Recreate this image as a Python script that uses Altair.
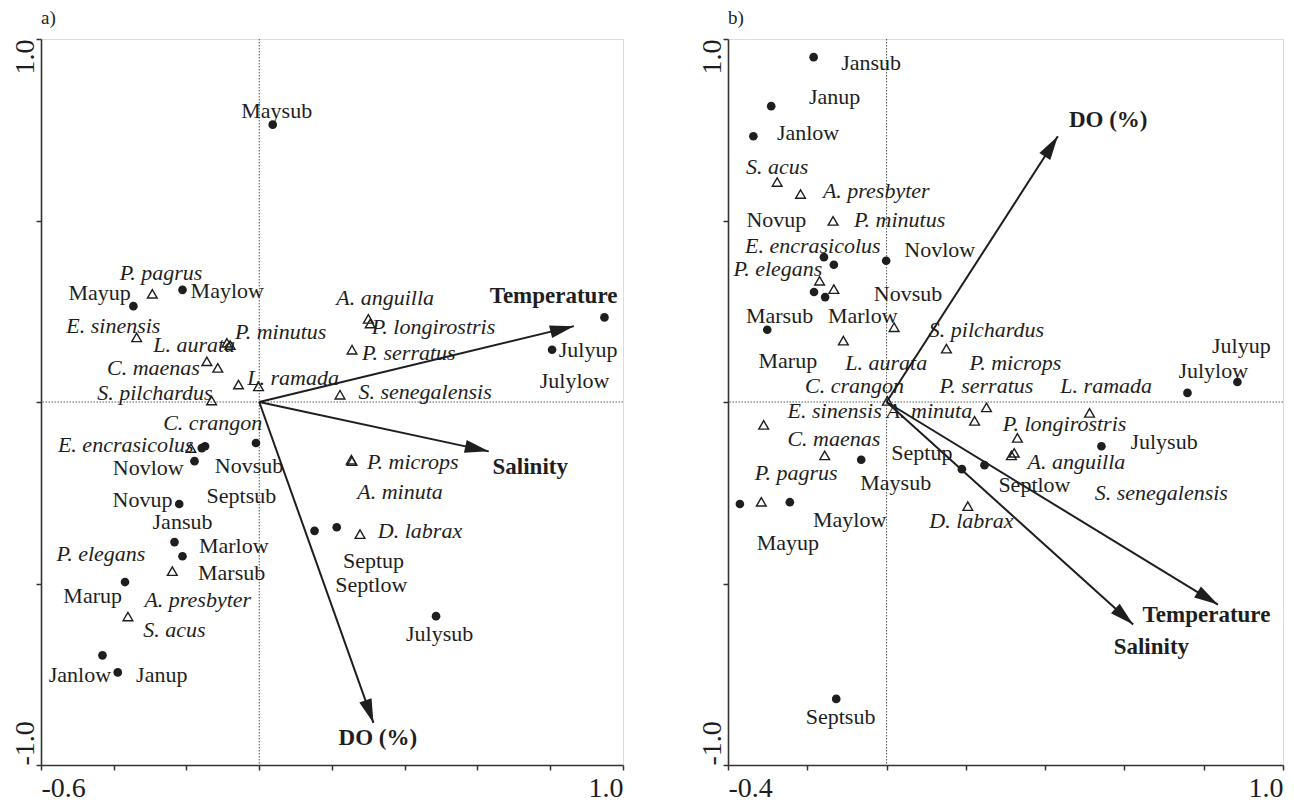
import math
import altair as alt
import pandas as pd

SERIF = "'Liberation Serif', 'DejaVu Serif', serif"
INK = "#1e1e1e"

# ---------------- Panel a ----------------
A_X_DOMAIN = [-0.6, 1.0]
A_X_TICKS = [-0.6, -0.4, -0.2, 0.0, 0.2, 0.4, 0.6, 0.8, 1.0]
A_X_TICK_TEXT = ["-0.6", "1.0"]

A_SITES = ["Maysub", "Mayup", "Maylow", "Julylow", "Julyup", "Julysub", "Septup", "Septlow",
           "Septsub", "Novsub", "Novlow", "Novup", "Jansub", "Marlow", "Marsub", "Marup",
           "Janlow", "Janup"]
A_SITE_X = [0.037, -0.346, -0.211, 0.949, 0.805, 0.486, 0.152, 0.213,
            -0.149, -0.009, -0.178, -0.220, -0.158, -0.233, -0.211, -0.369,
            -0.431, -0.389]
A_SITE_Y = [0.764, 0.264, 0.309, 0.233, 0.144, -0.590, -0.355, -0.345,
            -0.122, -0.113, -0.163, -0.281, -0.127, -0.386, -0.425, -0.496,
            -0.698, -0.745]
A_SITE_LX = [0.048, -0.439, -0.088, 0.867, 0.904, 0.496, 0.314, 0.308,
             -0.049, -0.028, -0.305, -0.321, -0.211, -0.070, -0.076, -0.458,
             -0.493, -0.268]
A_SITE_LY = [0.802, 0.300, 0.306, 0.057, 0.144, -0.639, -0.437, -0.503,
             -0.260, -0.177, -0.182, -0.269, -0.331, -0.398, -0.471, -0.535,
             -0.751, -0.751]

A_SPECIES = ["P. pagrus", "E. sinensis", "L. aurata", "P. minutus", "C. maenas", "P. elegans",
             "C. crangon", "L. ramada", "S. pilchardus", "E. encrasicolus", "A. presbyter",
             "S. acus", "A. anguilla", "P. longirostris", "P. serratus", "S. senegalensis",
             "P. microps", "A. minuta", "D. labrax"]
A_SP_X = [-0.294, -0.337, -0.089, -0.080, -0.144, -0.114,
          -0.057, -0.002, -0.131, -0.188, -0.239,
          -0.361, 0.300, 0.305, 0.255, 0.222,
          0.253, 0.255, 0.277]
A_SP_Y = [0.298, 0.178, 0.163, 0.157, 0.112, 0.094,
          0.048, 0.043, 0.004, -0.127, -0.466,
          -0.591, 0.229, 0.216, 0.144, 0.020,
          -0.159, -0.163, -0.364]
A_SP_LX = [-0.270, -0.401, -0.179, 0.059, -0.291, -0.435,
           -0.128, 0.093, -0.287, -0.367, -0.169,
           -0.233, 0.346, 0.479, 0.411, 0.456,
           0.422, 0.387, 0.442]
A_SP_LY = [0.355, 0.209, 0.158, 0.192, 0.094, -0.418,
           -0.058, 0.066, 0.025, -0.118, -0.545,
           -0.629, 0.287, 0.206, 0.135, 0.027,
           -0.165, -0.249, -0.355]

A_ENV = ["Temperature", "Salinity", "DO (%)"]
A_ENV_X = [0.865, 0.631, 0.314]
A_ENV_Y = [0.209, -0.136, -0.884]
A_ENV_LX = [0.809, 0.745, 0.326]
A_ENV_LY = [0.293, -0.179, -0.926]

# ---------------- Panel b ----------------
B_X_DOMAIN = [-0.4, 1.0]
B_X_TICKS = [-0.4, -0.2, 0.0, 0.2, 0.4, 0.6, 0.8, 1.0]
B_X_TICK_TEXT = ["-0.4", "1.0"]

B_SITES = ["Jansub", "Janup", "Janlow", "Novlow", "Novup", "Novsub", "Marlow", "Marup",
           "Marsub", "Julylow", "Julyup", "Julysub", "Septlow", "Septup", "Maysub", "Maylow",
           "Mayup", "Septsub"]
B_SITE_X = [-0.184, -0.291, -0.336, -0.001, -0.158, -0.133, -0.155, -0.183,
            -0.301, 0.759, 0.885, 0.542, 0.247, 0.190, -0.064, -0.244,
            -0.370, -0.127]
B_SITE_Y = [0.950, 0.815, 0.732, 0.389, 0.399, 0.378, 0.289, 0.303,
            0.199, 0.025, 0.055, -0.122, -0.174, -0.185, -0.159, -0.276,
            -0.281, -0.818]
B_SITE_LX = [-0.039, -0.131, -0.198, 0.134, -0.278, 0.054, -0.060, -0.249,
             -0.270, 0.824, 0.895, 0.700, 0.373, 0.089, 0.023, -0.093,
             -0.249, -0.116]
B_SITE_LY = [0.934, 0.840, 0.741, 0.420, 0.502, 0.298, 0.236, 0.114,
             0.236, 0.085, 0.153, -0.110, -0.229, -0.140, -0.223, -0.324,
             -0.388, -0.868]

B_SPECIES = ["S. acus", "A. presbyter", "P. minutus", "E. encrasicolus", "P. elegans",
             "S. pilchardus", "L. aurata", "P. microps", "C. crangon", "E. sinensis",
             "C. maenas", "P. pagrus", "D. labrax", "P. serratus", "A. minuta", "L. ramada",
             "P. longirostris", "A. anguilla", "S. senegalensis"]
B_SP_X = [-0.276, -0.217, -0.135, -0.169, -0.133,
          0.019, -0.109, 0.151, 0.002, -0.310,
          -0.156, -0.316, 0.205, 0.252, 0.222, 0.512,
          0.330, 0.315, 0.322]
B_SP_Y = [0.606, 0.573, 0.499, 0.334, 0.311,
          0.206, 0.169, 0.147, 0.003, -0.063,
          -0.147, -0.275, -0.287, -0.015, -0.052, -0.030,
          -0.099, -0.147, -0.140]
B_SP_LX = [-0.276, -0.026, 0.033, -0.186, -0.274,
           0.252, -0.001, 0.325, -0.081, -0.131,
           -0.133, -0.228, 0.214, 0.252, 0.108, 0.554,
           0.449, 0.479, 0.693]
B_SP_LY = [0.647, 0.580, 0.502, 0.429, 0.366,
           0.198, 0.107, 0.107, 0.043, -0.026,
           -0.102, -0.196, -0.328, 0.043, -0.026, 0.043,
           -0.061, -0.166, -0.251]

B_ENV = ["DO (%)", "Temperature", "Salinity"]
B_ENV_X = [0.432, 0.836, 0.622]
B_ENV_Y = [0.732, -0.558, -0.613]
B_ENV_LX = [0.559, 0.807, 0.668]
B_ENV_LY = [0.778, -0.588, -0.676]

Y_DOMAIN = [-1.0, 1.0]
Y_TICKS = [-1.0, -0.5, 0.0, 0.5, 1.0]
Y_TICK_TEXT = ["-1.0", "1.0"]

PLOT_H = 726
A_W = 582
B_W = 555

HEAD = "M0,0 L0.27,1 L-0.27,1 Z"


def make_panel(tag, xdom, xticks, xtext, w,
               sites, sx, sy, slx, sly,
               species, px, py, plx, ply,
               env, ex, ey, elx, ely):
    kx = w / (xdom[1] - xdom[0])
    ky = PLOT_H / (Y_DOMAIN[1] - Y_DOMAIN[0])

    x_label_expr = (f"datum.value == {xdom[0]} ? '{xtext[0]}' : "
                    f"(datum.value == {xdom[1]} ? '{xtext[1]}' : '')")
    y_label_expr = (f"datum.value == {Y_DOMAIN[0]} ? '{Y_TICK_TEXT[0]}' : "
                    f"(datum.value == {Y_DOMAIN[1]} ? '{Y_TICK_TEXT[1]}' : '')")

    xaxis = alt.Axis(values=xticks, title=None, grid=False, labelExpr=x_label_expr,
                     labelFlush=True, labelOverlap=False, labelFont=SERIF,
                     labelFontSize=28, labelColor=INK, labelPadding=4,
                     tickSize=5, tickWidth=1.5, tickColor="#333",
                     domainColor="#333", domainWidth=1.6)
    yaxis = alt.Axis(values=Y_TICKS, title=None, grid=False, labelExpr=y_label_expr,
                     labelAngle=270, labelOverlap=False, labelFont=SERIF,
                     labelFontSize=28, labelColor=INK, labelPadding=3,
                     labelAlign={"condition": {"test": "datum.value > 0", "value": "right"},
                                 "value": "left"},
                     labelBaseline="alphabetic",
                     tickSize=5, tickWidth=1.5, tickColor="#333",
                     domainColor="#333", domainWidth=1.6)
    xs = alt.Scale(domain=xdom, nice=False, zero=False)
    ys = alt.Scale(domain=Y_DOMAIN, nice=False, zero=False)

    def X(f):
        return alt.X(f, type="quantitative", scale=xs, axis=xaxis)

    def Y(f):
        return alt.Y(f, type="quantitative", scale=ys, axis=yaxis)

    site_df = pd.DataFrame({"name": sites, "x": sx, "y": sy, "lx": slx, "ly": sly})
    sp_df = pd.DataFrame({"name": species, "x": px, "y": py, "lx": plx, "ly": ply})
    ang = [(math.degrees(math.atan2(a * kx, b * ky)) + 360) % 360 for a, b in zip(ex, ey)]
    env_df = pd.DataFrame({"name": env, "x": ex, "y": ey, "lx": elx, "ly": ely,
                           "ang": ang, "z": [0.0] * len(env)})
    zero_df = pd.DataFrame({"v": [0.0]})

    vline = alt.Chart(zero_df).mark_rule(color="#444", strokeWidth=0.9,
                                         strokeDash=[1.5, 1.5]).encode(x=X("v"))
    hline = alt.Chart(zero_df).mark_rule(color="#444", strokeWidth=0.9,
                                         strokeDash=[1.5, 1.5]).encode(y=Y("v"))
    arrows = alt.Chart(env_df).mark_rule(color=INK, strokeWidth=2).encode(
        x=X("z"), y=Y("z"), x2="x:Q", y2="y:Q")
    heads = alt.Chart(env_df).mark_point(shape=HEAD, filled=True, size=2300,
                                         color=INK, opacity=1, strokeWidth=0).encode(
        x=X("x"), y=Y("y"), angle=alt.Angle("ang:Q", scale=None))
    dots = alt.Chart(site_df).mark_circle(size=75, color=INK, opacity=1).encode(
        x=X("x"), y=Y("y"))
    tris = alt.Chart(sp_df).mark_point(shape="triangle-up", size=95, filled=False,
                                       color=INK, strokeWidth=1.4, opacity=1).encode(
        x=X("x"), y=Y("y"))
    site_txt = alt.Chart(site_df).mark_text(font=SERIF, fontSize=22, color=INK,
                                            align="center", baseline="middle").encode(
        x=X("lx"), y=Y("ly"), text="name:N")
    sp_txt = alt.Chart(sp_df).mark_text(font=SERIF, fontSize=22, fontStyle="italic",
                                        color=INK, align="center",
                                        baseline="middle").encode(
        x=X("lx"), y=Y("ly"), text="name:N")
    env_txt = alt.Chart(env_df).mark_text(font=SERIF, fontSize=23, fontWeight="bold",
                                          color=INK, align="center",
                                          baseline="middle").encode(
        x=X("lx"), y=Y("ly"), text="name:N")

    return alt.layer(vline, hline, arrows, heads, dots, tris, site_txt, sp_txt,
                     env_txt).properties(
        width=w, height=PLOT_H,
        title=alt.TitleParams(text=tag, anchor="start", frame="group", font=SERIF,
                              fontSize=19, fontWeight="normal", color=INK, offset=10))


panel_a = make_panel("a)", A_X_DOMAIN, A_X_TICKS, A_X_TICK_TEXT, A_W,
                     A_SITES, A_SITE_X, A_SITE_Y, A_SITE_LX, A_SITE_LY,
                     A_SPECIES, A_SP_X, A_SP_Y, A_SP_LX, A_SP_LY,
                     A_ENV, A_ENV_X, A_ENV_Y, A_ENV_LX, A_ENV_LY)
panel_b = make_panel("b)", B_X_DOMAIN, B_X_TICKS, B_X_TICK_TEXT, B_W,
                     B_SITES, B_SITE_X, B_SITE_Y, B_SITE_LX, B_SITE_LY,
                     B_SPECIES, B_SP_X, B_SP_Y, B_SP_LX, B_SP_LY,
                     B_ENV, B_ENV_X, B_ENV_Y, B_ENV_LX, B_ENV_LY)

chart = alt.hconcat(panel_a, panel_b, spacing=72).properties(
    padding={"left": 2, "top": 0, "right": 0, "bottom": 0}
).configure_view(stroke="#333", strokeWidth=1.6).configure(background="white")

chart.save("out.html", embed_options={"renderer": "svg", "actions": False})
